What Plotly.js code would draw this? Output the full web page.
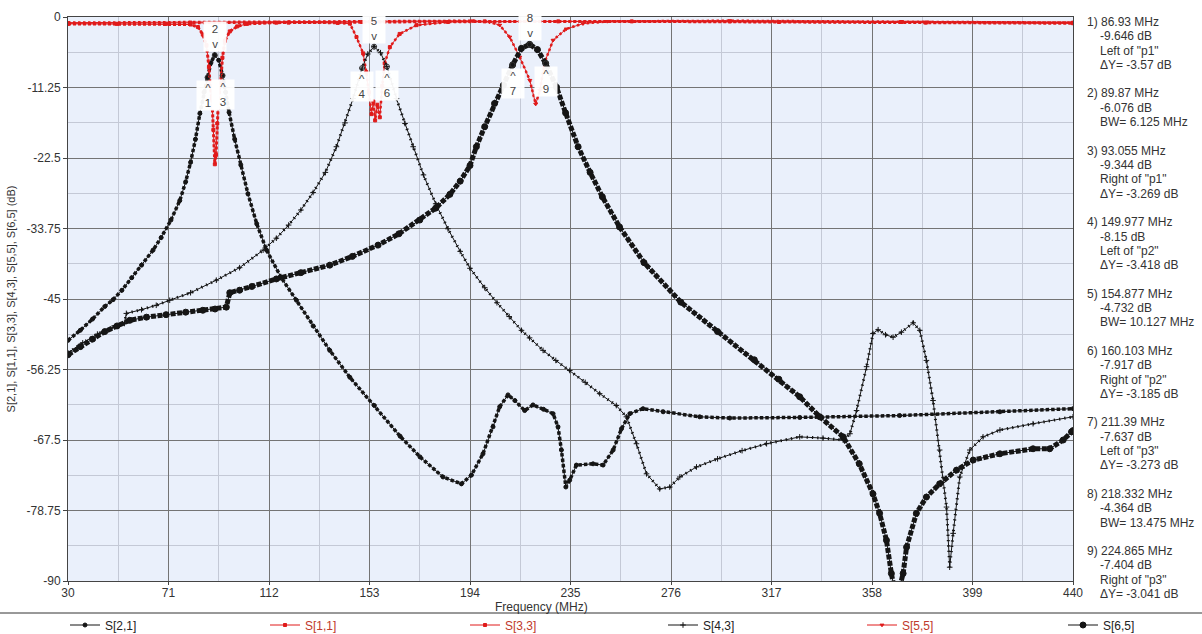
<!DOCTYPE html>
<html><head><meta charset="utf-8">
<script src="https://cdn.plot.ly/plotly-3.0.1.min.js"></script>
<style>html,body{margin:0;padding:0;background:#fff;}#chart{width:1202px;height:634px;}</style>
</head><body><div id="chart"></div>
<script>
// ---------- data ----------
const f21 = [30,35,40,45,48.4,52,56,60,64.7,68,72,75.6,78,80,82,83.8,85.5,86.93,88.3,89.87,91.5,93.055,94.3,95.7,98,100.5,103.4,107,111,117,123.2,130,136.8,145,155,165.5,173.6,183,190.5,194.6,199.3,203.4,206.1,209.5,212.3,216.3,219.7,224,227.9,229.9,231.3,233.1,234.7,237.4,244.2,248.3,252.4,255.8,259.2,264.6,272.8,287.7,300,328.5,369.3,410.2,440];
const d21 = [-51.6,-50.0,-48.2,-46.2,-45.1,-43.6,-41.6,-39.6,-37.2,-35.2,-32.4,-29.3,-26.3,-23.2,-19.5,-15.4,-12.0,-9.65,-7.3,-6.08,-6.9,-9.34,-12.0,-15.2,-19.5,-23.6,-28.2,-33.0,-37.2,-41.6,-45.2,-49.3,-53.2,-57.5,-62.0,-66.9,-70.2,-73.4,-74.5,-73.1,-69.7,-65.4,-62.2,-60.3,-61.2,-62.8,-61.9,-62.6,-63.3,-65.4,-69.1,-75.0,-73.9,-71.5,-71.3,-71.5,-69.1,-65.7,-63.3,-62.5,-63.0,-63.8,-64.0,-63.9,-63.6,-63.0,-62.5];

const f11 = [30,50,70,80,83,85,86.5,87.5,88,88.7,89.3,89.9,90.4,90.9,91.5,92.3,93,94,96,99,103,115,150,200,260,320,380,440];
const d11 = [-1.1,-1.1,-1.1,-1.2,-1.6,-2.8,-4.5,-8.0,-11.0,-13.0,-18.0,-23.5,-22.0,-17.0,-12.0,-10.5,-6.5,-3.8,-2.3,-1.5,-1.1,-0.9,-0.8,-0.7,-0.7,-0.8,-0.9,-1.0];

const f33 = [30,80,120,140,145,147.7,150.4,151.7,152.8,153.8,154.6,155.3,156.2,157.2,158.2,159.2,161.3,165.3,172.2,185,230,300,370,440];
const d33 = [-1.0,-0.9,-0.9,-0.95,-1.06,-3.2,-5.8,-8.8,-12.0,-15.5,-13.5,-16.5,-14.0,-16.0,-11.0,-7.4,-4.8,-2.7,-1.3,-0.8,-0.7,-0.7,-0.8,-0.9];

const f43 = [30,36,42,48,53,53.8,60,66,71.5,80,90.5,100,109.6,115,120,125,130,135,139.5,143,146.3,149.977,152.3,154.877,157.5,160.103,164,167.5,170.8,175,180,185,190,194,200,205,210,215,218.3,223.8,229,234.7,241,246.9,253.7,257.8,261.9,266,271.4,275.5,279.6,286.4,295,305,315,328.5,338,346.2,349,351.7,355.8,358.4,360.5,363.5,366.6,370,374.8,377.5,380.2,382.9,385.6,388.4,389.7,391.1,393.8,397.9,403.3,410.2,423.7,440];
const d43 = [-53.6,-52.0,-50.6,-49.6,-48.9,-47.3,-46.7,-46.0,-45.2,-44.0,-42.0,-40.0,-37.2,-35.3,-33.2,-30.8,-28.0,-24.8,-20.7,-16.9,-13.0,-8.15,-5.9,-4.73,-5.7,-7.92,-13.0,-17.0,-20.7,-25.2,-29.8,-33.8,-37.4,-40.1,-43.2,-45.6,-47.8,-50.0,-51.2,-53.2,-54.8,-56.4,-58.3,-60.1,-62.0,-63.8,-68.1,-72.9,-75.3,-75.0,-73.4,-71.8,-70.5,-69.2,-68.1,-67.0,-67.2,-67.5,-66.5,-62.8,-55.8,-50.5,-49.9,-50.7,-51.1,-50.3,-48.8,-50.0,-54.8,-61.2,-69.1,-78.2,-87.8,-82.4,-73.4,-69.1,-67.0,-65.9,-64.9,-63.8];

const f55 = [30,120,195,202,206.1,210.2,214.3,218.4,220.8,222.5,224.5,227.9,233.3,240.1,250,300,370,440];
const d55 = [-0.9,-0.8,-0.6,-0.8,-1.3,-3.2,-6.4,-10.1,-13.9,-11.7,-7.2,-3.7,-1.9,-1.06,-0.7,-0.6,-0.7,-0.9];

const f65 = [30,35,40,45,50,55.2,62,70,78,85,90,94.6,96,100,105,115,125,136.8,146,156.5,165,173.5,180,185.8,190,194,196.6,200,204,207.6,211.39,215,218.332,221.5,224.865,229.3,233,238.1,243,248,255,265,280,295,310,320,328.5,336.7,346.2,352.8,358.4,361.1,363.9,365.9,368,370.7,372.1,376.1,380.2,385.6,392.5,399.3,410.2,423.7,430.5,436,439.4,440];
const d65 = [-53.9,-52.6,-51.4,-50.2,-49.3,-48.4,-47.9,-47.5,-47.1,-46.8,-46.6,-46.3,-44.0,-43.6,-43.0,-41.8,-40.8,-39.6,-38.2,-36.4,-34.6,-32.4,-30.5,-28.3,-26.2,-23.7,-20.7,-17.5,-13.8,-10.9,-7.64,-5.0,-4.36,-5.2,-7.40,-11.2,-15.3,-20.7,-24.8,-28.7,-33.5,-39.2,-45.5,-50.2,-54.7,-57.8,-60.6,-63.8,-67.0,-71.3,-76.1,-79.2,-83.5,-88.8,-93.0,-88.8,-84.6,-79.2,-76.6,-74.5,-72.3,-70.7,-69.7,-68.9,-68.9,-67.5,-66.2,-66.0];

// markers
const mkFreq = [86.93,89.87,93.055,149.977,154.877,160.103,211.39,218.332,224.865];
const mkDb = [-9.646,-6.076,-9.344,-8.15,-4.732,-7.917,-7.637,-4.364,-7.404];
const mkNote = ['Left of "p1"','BW= 6.125 MHz','Right of "p1"','Left of "p2"','BW= 10.127 MHz','Right of "p2"','Left of "p3"','BW= 13.475 MHz','Right of "p3"'];
const mkDelta = ['ΔY= -3.57 dB',null,'ΔY= -3.269 dB','ΔY= -3.418 dB',null,'ΔY= -3.185 dB','ΔY= -3.273 dB',null,'ΔY= -3.041 dB'];

// axes
const xTicks = [30,71,112,153,194,235,276,317,358,399,440];
const yTicks = [0,-11.25,-22.5,-33.75,-45,-56.25,-67.5,-78.75,-90];
const yTickText = ['0','-11.25','-22.5','-33.75','-45','-56.25','-67.5','-78.75','-90'];

// ---------- drawing ----------
const W=1202,H=634,ML=68,MR=129,MT=17,MB=53;
const PW=W-ML-MR, PH=H-MT-MB;
const px2x = p => (p-ML)/PW;
const py2y = p => (H-MB-p)/PH;
const FONT = 'Liberation Sans, Arial, sans-serif';
const BLACK = '#151515', RED = '#e01b1b';

const series = [
  {name:'S[2,1]', x:f21, y:d21, color:BLACK, msym:'circle', msize:4, bw:3.5, dash:'3.5px,2px', leg:'legend', tcol:'#222'},
  {name:'S[1,1]', x:f11, y:d11, color:RED, msym:'square', msize:3, bw:3, dash:'3px,2px', leg:'legend2', tcol:'#c0392b'},
  {name:'S[3,3]', x:f33, y:d33, color:RED, msym:'square', msize:3, bw:2.5, dash:'2.5px,2.5px', leg:'legend3', tcol:'#c0392b'},
  {name:'S[4,3]', x:f43, y:d43, color:BLACK, msym:'cross-thin-open', msize:4, bw:3, dash:'1.3px,4px', leg:'legend4', tcol:'#222'},
  {name:'S[5,5]', x:f55, y:d55, color:RED, msym:'triangle-down', msize:3.5, bw:2.5, dash:'2.5px,2.5px', leg:'legend5', tcol:'#c0392b'},
  {name:'S[6,5]', x:f65, y:d65, color:BLACK, msym:'circle', msize:6, bw:5, dash:'5px,1.6px', leg:'legend6', tcol:'#222'}
];

const traces = [];
series.forEach(s => {
  traces.push({x:s.x, y:s.y, type:'scatter', mode:'lines', showlegend:false, hoverinfo:'skip',
    line:{color:s.color, width:s.bw, dash:s.dash}});
  traces.push({x:s.x, y:s.y, type:'scatter', mode:'lines+markers', name:s.name, legend:s.leg,
    line:{color:s.color, width:1}, marker:{symbol:s.msym, size:s.msize, color:s.color, line:{color:s.color, width:1}}});
});
traces.push({x:mkFreq, y:mkDb, type:'scatter', mode:'markers', showlegend:false,
  marker:{symbol:'circle-open', size:5, color:'#333', line:{width:1}}});

const annotations = [];
// marker labels on the chart
mkFreq.forEach((f,i) => {
  const above = (i % 3 === 1);
  annotations.push({x:f, y:mkDb[i], xref:'x', yref:'y', showarrow:false,
    text: above ? `${i+1}<br>v` : `^<br>${i+1}`,
    yanchor: above ? 'bottom' : 'top', yshift: above ? 3 : -3,
    bgcolor:'rgba(255,255,255,0.95)', width:20, borderpad:1,
    font:{family:FONT, size:11.5, color:'#444'}});
});
// right-hand marker read-out
let k = 0;
const step = 14.3, top0 = 22;
mkFreq.forEach((f,i) => {
  const lines = [`${i+1}) ${f} MHz`, `${mkDb[i]} dB`, mkNote[i]];
  if (mkDelta[i]) lines.push(mkDelta[i]);
  lines.forEach((t,j) => {
    annotations.push({xref:'paper', yref:'paper', x:px2x(j===0?1085:1098), y:py2y(top0+k*step),
      xanchor:'left', yanchor:'middle', showarrow:false, text:t,
      font:{family:FONT, size:12, color:'#333'}});
    k++;
  });
  k++;
});
// x-axis title
annotations.push({xref:'paper', yref:'paper', x:px2x(590), y:py2y(607), xanchor:'right', yanchor:'middle',
  showarrow:false, text:'Frequency (MHz)', font:{family:FONT, size:12, color:'#333'}});

const legendPos = [65, 265, 465, 663, 862, 1063];
const legends = {};
series.forEach((s,i) => {
  legends[i===0?'legend':'legend'+(i+1)] = {
    x:px2x(legendPos[i]), y:py2y(625), xanchor:'left', yanchor:'middle', orientation:'h',
    bgcolor:'rgba(0,0,0,0)', borderwidth:0, font:{family:FONT, size:12, color:s.tcol}
  };
});

const layout = Object.assign({
  width:W, height:H, margin:{l:ML, r:MR, t:MT, b:MB, pad:0, autoexpand:false},
  paper_bgcolor:'#ffffff', plot_bgcolor:'#eaf0fb',
  font:{family:FONT, size:12, color:'#333'},
  xaxis:{range:[30,440], tickvals:xTicks, ticktext:xTicks.map(String), showgrid:true, gridcolor:'#747474', gridwidth:1,
    minor:{dtick:20.5, tick0:30, showgrid:true, gridcolor:'#c4c9d6', gridwidth:1, ticks:''},
    ticks:'outside', ticklen:3, tickcolor:'#444', showline:true, linecolor:'#444', linewidth:1, mirror:true, zeroline:false,
    ticklabelstandoff:-2,
    automargin:false, tickfont:{family:FONT, size:12, color:'#333'}, fixedrange:true},
  yaxis:{range:[-90,0], tickvals:yTicks, ticktext:yTickText, showgrid:true, gridcolor:'#747474', gridwidth:1,
    minor:{dtick:5.625, tick0:0, showgrid:true, gridcolor:'#c4c9d6', gridwidth:1, ticks:''},
    ticks:'outside', ticklen:4, tickcolor:'#444', showline:true, linecolor:'#444', linewidth:1, mirror:true, zeroline:false,
    automargin:false, tickfont:{family:FONT, size:12, color:'#333'},
    title:{text:'S[2,1], S[1,1], S[3,3], S[4,3], S[5,5], S[6,5] (dB)', font:{family:FONT, size:11, color:'#333'}, standoff:8}, fixedrange:true},
  annotations:annotations,
  shapes:[{type:'line', xref:'paper', yref:'paper', x0:px2x(0), x1:px2x(W), y0:py2y(613), y1:py2y(613), line:{color:'#333', width:1}}],
  hovermode:false
}, legends);

Plotly.newPlot('chart', traces, layout, {displayModeBar:false, staticPlot:true});
</script></body></html>
